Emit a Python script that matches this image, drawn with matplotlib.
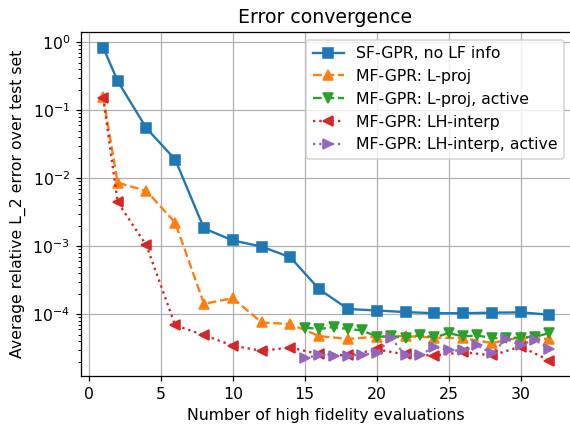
import matplotlib
matplotlib.use("Agg")
import matplotlib.pyplot as plt

# number of high fidelity evaluations
x_even = [1, 2, 4, 6, 8, 10, 12, 14, 16, 18, 20, 22, 24, 26, 28, 30, 32]
x_active = list(range(15, 33))

sf_gpr = [0.83, 0.268, 0.0543, 0.0188, 1.83e-3, 1.22e-3, 9.9e-4, 6.9e-4,
          2.34e-4, 1.2e-4, 1.14e-4, 1.08e-4, 1.04e-4, 1.04e-4, 1.06e-4,
          1.07e-4, 9.9e-5]
mf_lproj = [0.156, 8.6e-3, 6.5e-3, 2.22e-3, 1.43e-4, 1.73e-4, 7.6e-5, 7.2e-5,
            4.8e-5, 4.35e-5, 4.7e-5, 4.8e-5, 4.57e-5, 4.45e-5, 3.8e-5,
            4.6e-5, 4.33e-5]
mf_lproj_active = [6.4e-5, 6.1e-5, 6.5e-5, 6.1e-5, 5.8e-5, 4.7e-5, 4.75e-5,
                   4.57e-5, 4.95e-5, 4.6e-5, 5.3e-5, 4.75e-5, 4.9e-5, 4.48e-5,
                   4.48e-5, 4.57e-5, 4.7e-5, 5.3e-5]
mf_lh = [0.151, 4.46e-3, 1.03e-3, 6.9e-5, 4.96e-5, 3.47e-5, 2.92e-5, 3.25e-5,
         2.61e-5, 2.49e-5, 3.05e-5, 2.58e-5, 2.48e-5, 2.79e-5, 2.49e-5,
         3.37e-5, 2.1e-5]
mf_lh_active = [2.25e-5, 2.55e-5, 2.48e-5, 2.48e-5, 2.55e-5, 2.72e-5, 4.48e-5,
                2.49e-5, 2.49e-5, 3.37e-5, 2.95e-5, 2.95e-5, 3.49e-5, 2.67e-5,
                4.33e-5, 3.57e-5, 4.22e-5, 3.09e-5]

dpi = 113
fig = plt.figure(figsize=(570 / dpi, 426 / dpi), dpi=dpi)
# the original figure was cropped on the right, so the right spine sits off-canvas
ax = fig.add_axes([0.142, 0.117, 0.875, 0.808])

ax.semilogy(x_even, sf_gpr, '-s', color='C0', label='SF-GPR, no LF info')
ax.semilogy(x_even, mf_lproj, '--^', color='C1', label='MF-GPR: L-proj')
ax.semilogy(x_active, mf_lproj_active, '--v', color='C2', label='MF-GPR: L-proj, active')
ax.semilogy(x_even, mf_lh, ':<', color='C3', label='MF-GPR: LH-interp')
ax.semilogy(x_active, mf_lh_active, ':>', color='C4', label='MF-GPR: LH-interp, active')

ax.set_xlim(-0.55, 34.1)
ax.grid(True)
ax.set_title('Error convergence', x=0.49)
ax.set_xlabel('Number of high fidelity evaluations', x=0.49)
ax.set_ylabel('Average relative L_2 error over test set')
ax.legend(loc='upper right', bbox_to_anchor=(0.985, 1.0))

fig.savefig('out.png', dpi=dpi)
